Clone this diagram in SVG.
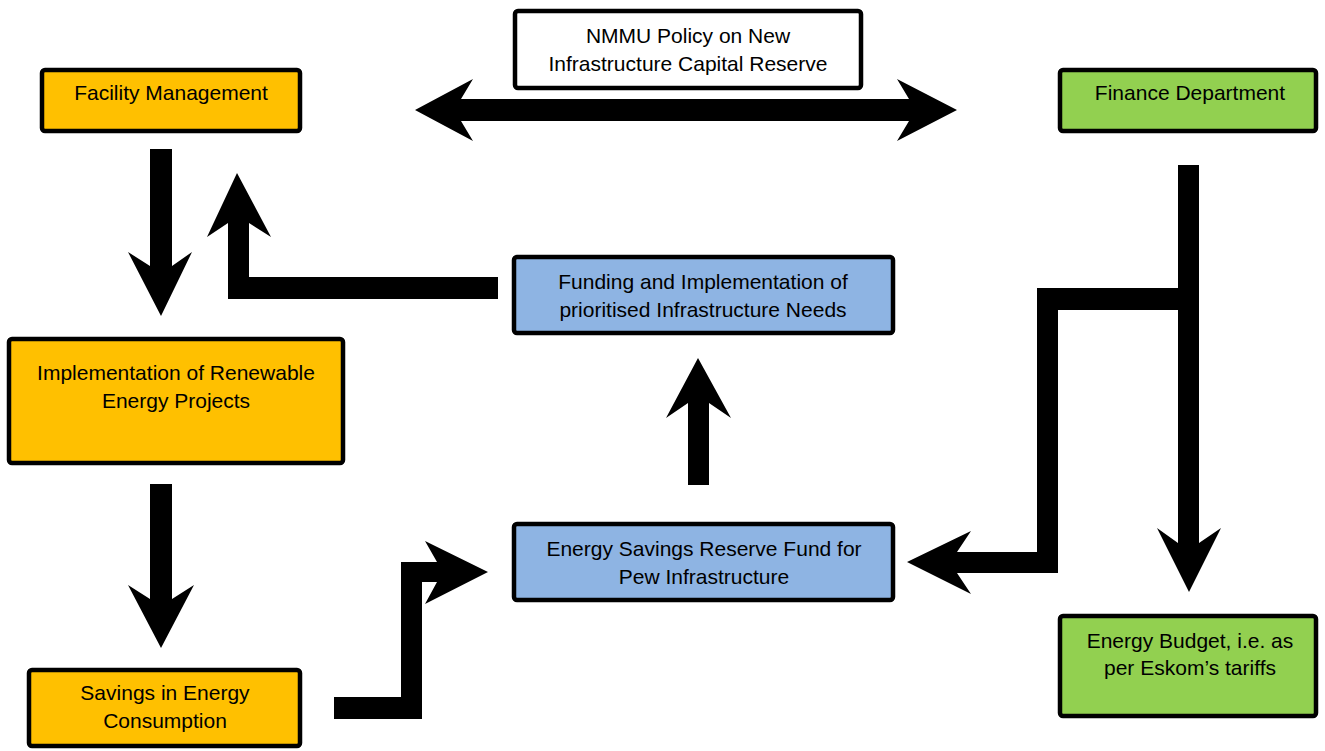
<svg xmlns="http://www.w3.org/2000/svg" width="1325" height="751" viewBox="0 0 1325 751">
<style>
.box{stroke:#000;stroke-width:4.5;}
.orange{fill:#FFC000;}
.green{fill:#92D050;}
.blue{fill:#8EB4E3;}
.white{fill:#FFFFFF;}
text{font-family:"Liberation Sans",Arial,sans-serif;font-size:21px;fill:#000;text-anchor:middle;}
.arrow{fill:#000;stroke:none;}
</style>
<rect width="1325" height="751" fill="#fff"/>
<g id="connectors">
  <!-- double arrow -->
  <polygon class="arrow" points="415,110 473,79 461,99 909,99 897,79 957,110 897,141 909,121 461,121 473,141"/>
  <!-- Facility down to Implementation -->
  <polygon class="arrow" points="150,149 172,149 172,266 192,252 161,316 128,252 150,266"/>
  <!-- Implementation down to Savings -->
  <polygon class="arrow" points="150,484 172,484 172,599 194,585 161,648 128,585 150,599"/>
  <!-- Funding to Facility (elbow up) -->
  <polygon class="arrow" points="498,277 498,299 228,299 228,223 207,237 237,173 271,237 249,223 249,277"/>
  <!-- Savings to Energy Savings Reserve (elbow) -->
  <polygon class="arrow" points="334,697 401,697 401,562 437,562 425,541 488,572 425,604 437,582 422,582 422,719 334,719"/>
  <!-- Energy Savings up to Funding -->
  <polygon class="arrow" points="688,485 709,485 709,403 731,418 698,358 666,418 688,403"/>
  <!-- Finance down to Energy Budget with branch -->
  <polygon class="arrow" points="1178,165 1199,165 1199,543 1221,528 1189,592 1157,528 1178,543 1178,310 1058,310 1058,573 957,573 971,594 907,562 971,531 957,552 1037,552 1037,288 1178,288"/>
</g>
<g id="node-policy">
  <rect class="box white" x="515" y="11" width="346" height="77" rx="3"/>
  <text x="688" y="43">NMMU Policy on New</text>
  <text x="688" y="71">Infrastructure Capital Reserve</text>
</g>
<g id="node-facility">
  <rect class="box orange" x="42" y="70" width="258" height="61" rx="3"/>
  <text x="171" y="100">Facility Management</text>
</g>
<g id="node-finance">
  <rect class="box green" x="1060" y="70" width="256" height="61" rx="3"/>
  <text x="1190" y="100">Finance Department</text>
</g>
<g id="node-funding">
  <rect class="box blue" x="514" y="257" width="379" height="76" rx="3"/>
  <text x="703" y="289">Funding and Implementation of</text>
  <text x="703" y="317">prioritised Infrastructure Needs</text>
</g>
<g id="node-renewable">
  <rect class="box orange" x="9" y="339" width="334" height="124" rx="3"/>
  <text x="176" y="380">Implementation of Renewable</text>
  <text x="176" y="408">Energy Projects</text>
</g>
<g id="node-reserve">
  <rect class="box blue" x="514" y="524" width="379" height="76" rx="3"/>
  <text x="704" y="556">Energy Savings Reserve Fund for</text>
  <text x="704" y="584">Pew Infrastructure</text>
</g>
<g id="node-savings">
  <rect class="box orange" x="29" y="670" width="271" height="76" rx="3"/>
  <text x="165" y="700">Savings in Energy</text>
  <text x="165" y="728">Consumption</text>
</g>
<g id="node-budget">
  <rect class="box green" x="1060" y="616" width="256" height="100" rx="3"/>
  <text x="1190" y="648">Energy Budget, i.e. as</text>
  <text x="1190" y="675">per Eskom’s tariffs</text>
</g>
</svg>
